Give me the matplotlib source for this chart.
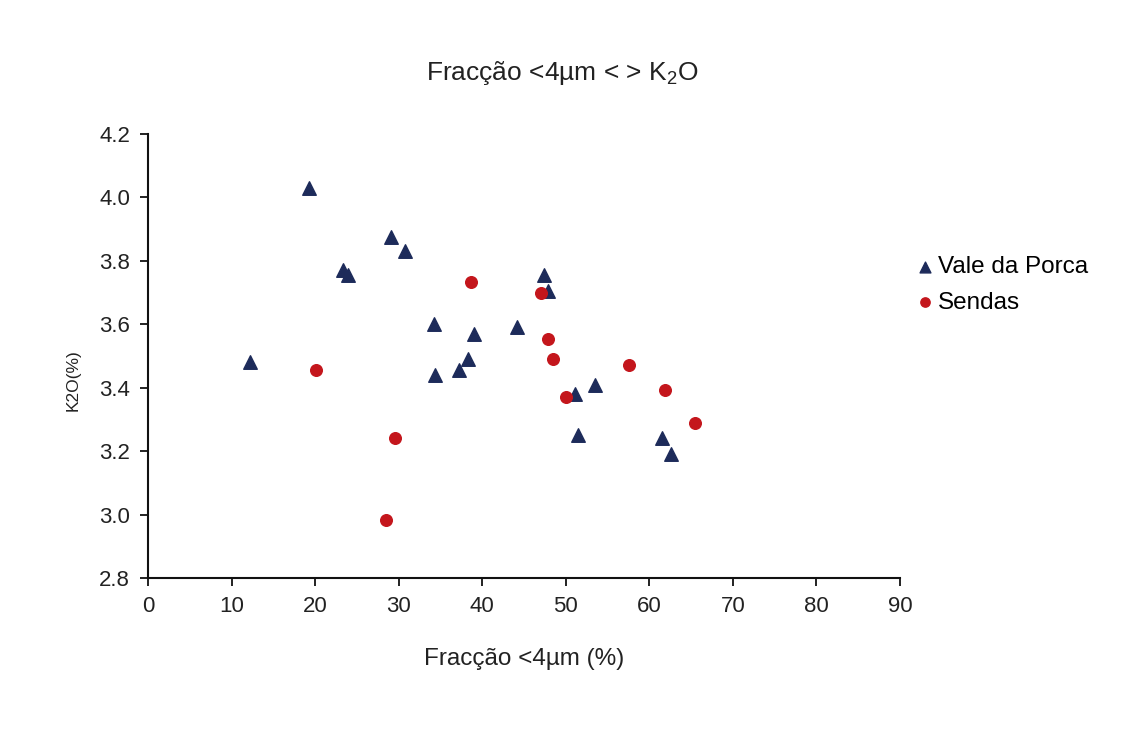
import matplotlib
matplotlib.use("Agg")
import matplotlib.pyplot as plt

plt.rcParams['font.family'] = ['Liberation Sans', 'DejaVu Sans']
plt.rcParams['mathtext.fontset'] = 'custom'
plt.rcParams['mathtext.rm'] = 'Liberation Sans'
plt.rcParams['mathtext.it'] = 'Liberation Sans'

# Vale da Porca (triangles)
vp_x = [12.2, 19.3, 23.3, 23.9, 29.1, 30.7, 34.2, 34.4, 37.2, 38.3, 39.0,
        44.2, 47.4, 47.9, 51.1, 53.5, 51.5, 61.5, 62.6]
vp_y = [3.48, 4.03, 3.77, 3.755, 3.875, 3.83, 3.60, 3.44, 3.455, 3.49, 3.57,
        3.59, 3.755, 3.705, 3.38, 3.41, 3.25, 3.24, 3.19]

# Sendas (circles)
se_x = [20.1, 29.5, 28.5, 38.7, 47.0, 47.9, 48.5, 50.0, 57.6, 61.9, 65.5]
se_y = [3.455, 3.243, 2.982, 3.732, 3.70, 3.553, 3.492, 3.37, 3.472, 3.393, 3.29]

fig = plt.figure(figsize=(11.25, 7.34), dpi=100)
ax = fig.add_axes([0.1316, 0.2125, 0.6684, 0.605])

ax.scatter(vp_x, vp_y, marker='^', s=95, color='#1d2b5a', label='Vale da Porca', zorder=3)
ax.scatter(se_x, se_y, marker='o', s=70, color='#c4161c', label='Sendas', zorder=3)

ax.set_xlim(0, 90)
ax.set_ylim(2.8, 4.2)
ax.set_xticks(range(0, 91, 10))
ax.set_yticks([2.8, 3.0, 3.2, 3.4, 3.6, 3.8, 4.0, 4.2])
ax.set_yticklabels(['2.8', '3.0', '3.2', '3.4', '3.6', '3.8', '4.0', '4.2'])

for side in ['top', 'right']:
    ax.spines[side].set_visible(False)
for side in ['left', 'bottom']:
    ax.spines[side].set_linewidth(1.5)
    ax.spines[side].set_color('#111111')
ax.tick_params(direction='out', length=6, width=1.3, labelsize=16, colors='#111111',
               labelcolor='#222222')
ax.tick_params(axis='x', pad=7)
ax.tick_params(axis='y', pad=7)

ax.set_xlabel('Fracção <4µm (%)', fontsize=17.5, labelpad=22, color='#222222')
ax.set_ylabel('K2O(%)', fontsize=12.5, color='#222222')
ax.yaxis.set_label_coords(-0.09, 0.445)
fig.text(0.5, 0.9, r'Fracção <4µm < > K$_2$O', fontsize=19, ha='center', va='center',
         color='#222222')

ax.legend(loc='center left', bbox_to_anchor=(0.988, 0.66), frameon=False, fontsize=17.5,
          handletextpad=0.05, handlelength=1.0, labelspacing=0.55, markerscale=0.8)

fig.savefig('out.png', dpi=100, facecolor='white')
